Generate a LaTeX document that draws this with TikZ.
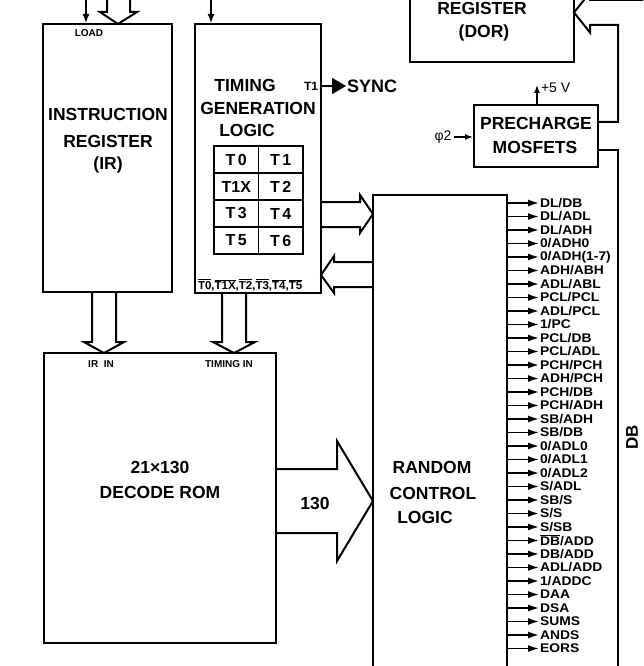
\documentclass[tikz,border=0pt]{standalone}
\usepackage{fontspec}
\setmainfont{Liberation Sans}
\newfontfamily\sigfont[FakeStretch=1.1]{Liberation Sans}
\usetikzlibrary{arrows.meta}
\newcommand{\olx}[1]{$\overline{\hbox{#1}}$}
\newcommand{\cgap}{\hspace{2.5pt}}
\begin{document}
\begin{tikzpicture}[x=1pt,y=-1pt,line width=2pt,line join=miter,
  box/.style={draw,inner sep=0pt},
  big/.style={font=\fontsize{17.5}{19}\selectfont\bfseries,inner sep=0pt},
  cellt/.style={font=\fontsize{16}{17}\selectfont\bfseries,inner sep=0pt},
  sm/.style={font=\fontsize{10}{11}\selectfont\bfseries,inner sep=0pt},
  sigf/.style={font=\sigfont\fontsize{12.6}{13}\selectfont\bfseries,anchor=west,inner sep=0pt},
  sigarrow/.style={-{Latex[length=11pt,width=7pt]},line width=1.6pt},
  thin/.style={-{Latex[length=9pt,width=7pt]},line width=1.6pt},
  cell/.style={draw,inner sep=0pt,minimum width=44.5pt,minimum height=27pt,line width=1.7pt}]
\useasboundingbox (0,0) rectangle (643,666);
\clip (0,0) rectangle (643,666);

% boxes
\node[box,minimum width=129pt,minimum height=268pt] (ir) at (107.5,158) {};
\node[box,minimum width=126pt,minimum height=269pt] (tim) at (258,158.5) {};
\node[box,minimum width=164pt,minimum height=76pt] (dor) at (492,24) {};
\node[box,minimum width=124pt,minimum height=62pt] (pre) at (536,136) {};
\node[box,minimum width=134pt,minimum height=485pt] (rcl) at (440,437.5) {};
\node[box,minimum width=232pt,minimum height=290pt] (rom) at (160,498) {};

% IR
\node[sm] (load) at (89,33) {LOAD};
\node[big] (irt1) at (108,114) {INSTRUCTION};
\node[big] (irt2) at (108,141) {REGISTER};
\node[big] (irt3) at (108,165) {(IR)};
\coordinate (loadtop) at (86,-2);
\draw[thin] (loadtop) -- (loadtop |- ir.north);
\draw (107,-2) -- (107,12) -- (100,12) -- (118,24) -- (137,12) -- (130,12) -- (130,-2);

% timing
\node[big] (tt1) at (245,85) {TIMING};
\node[big] (tt2) at (258,108) {GENERATION};
\node[big] (tt3) at (247,130) {LOGIC};
\coordinate (timtop) at (211,-2);
\draw[thin] (timtop) -- (timtop |- tim.north);
\node[cell] (c00) at (236.25,159.5) {}; \node[cellt] at (c00) {T\cgap 0};
\node[cell] (c01) at (280.75,159.5) {}; \node[cellt] at (c01) {T\cgap 1};
\node[cell] (c10) at (236.25,186.5) {}; \node[cellt] at (c10) {T1X};
\node[cell] (c11) at (280.75,186.5) {}; \node[cellt] at (c11) {T\cgap 2};
\node[cell] (c20) at (236.25,213.5) {}; \node[cellt] at (c20) {T\cgap 3};
\node[cell] (c21) at (280.75,213.5) {}; \node[cellt] at (c21) {T\cgap 4};
\node[cell] (c30) at (236.25,240.5) {}; \node[cellt] at (c30) {T\cgap 5};
\node[cell] (c31) at (280.75,240.5) {}; \node[cellt] at (c31) {T\cgap 6};
\node[font=\fontsize{11.5}{12}\selectfont\bfseries,inner sep=0pt,anchor=west] (tbar) at (197,285)
  {\olx{T0},\olx{T1X},\olx{T2},\olx{T3},\olx{T4},\olx{T5}};
\node[font=\fontsize{12}{13}\selectfont\bfseries,inner sep=0pt] (t1o) at (311,86) {T1};
\node[font=\fontsize{18}{19}\selectfont\bfseries,inner sep=0pt,anchor=west] (sync) at (346,86) {SYNC};
\draw[-{Triangle[length=14pt,width=16pt]},line width=1.6pt] (tim.east |- t1o) -- (sync.west);

% DOR
\node[big] (dort1) at (482,8) {REGISTER};
\node[big] (dort2) at (484,33) {(DOR)};

% precharge
\node[big] (pret1) at (536,123) {PRECHARGE};
\node[big] (pret2) at (535,147) {MOSFETS};
\node[font=\fontsize{14}{15}\selectfont,inner sep=0pt] (phi) at (443,137) {φ2};
\draw[-{Latex[length=8pt,width=6pt]},line width=1.4pt] (phi.east) ++(2,0) -- (pre.west |- phi.east);
\coordinate (vtop) at (537,85);
\draw[-{Latex[length=8pt,width=6pt]},line width=1.4pt] (pre.north -| vtop) -- (vtop);
\node[font=\fontsize{14}{15}\selectfont,inner sep=0pt,anchor=west] (v5) at (540,88) {+5 V};

% DB bus and DOR input
\coordinate (pu) at (598,122);
\coordinate (pl) at (598,150);
\coordinate (dbbot) at (618,680);
\draw (pu) -- (618,122) -- (618,25) -- (590,25) -- (590,32.5) -- (574,12.5) -- (590,-7.5) -- (590,0) -- (650,0);
\draw (pl) -| (dbbot);
\node[font=\fontsize{17}{18}\selectfont\bfseries,inner sep=0pt,rotate=90] (db) at (632,437) {DB};

% RCL
\node[big] (r1) at (432,467) {RANDOM};
\node[big] (r2) at (433,493) {CONTROL};
\node[big] (r3) at (425,517) {LOGIC};

% ROM
\node[sm] (irin) at (101,364) {IR\ \ IN};
\node[sm] (timin) at (229,364) {TIMING IN};
\node[big] (rom1) at (160,467) {21×130};
\node[big] (rom2) at (160,492) {DECODE ROM};

% hollow arrows
\draw (321,202) -- (360,202) -- (360,195) -- (373,214) -- (360,233) -- (360,227) -- (321,227);
\draw (373,262) -- (334,262) -- (334,256) -- (321,275) -- (334,293) -- (334,287) -- (373,287);
\draw (92,292) -- (92,342) -- (84,342) -- (104,353) -- (124,342) -- (116,342) -- (116,292);
\draw (222,293) -- (222,342) -- (213,342) -- (234,353) -- (255,342) -- (246,342) -- (246,293);
\draw (276,469) -- (337,469) -- (337,441) -- (373,501) -- (337,561) -- (337,533) -- (276,533);
\node[big] (n130) at (315,503) {130};

% control signals
\foreach \lab [count=\i from 0] in {DL/DB,DL/ADL,DL/ADH,0/ADH0,0/ADH(1-7),ADH/ABH,ADL/ABL,PCL/PCL,ADL/PCL,1/PC,PCL/DB,PCL/ADL,PCH/PCH,ADH/PCH,PCH/DB,PCH/ADH,SB/ADH,SB/DB,0/ADL0,0/ADL1,0/ADL2,S/ADL,SB/S,S/S,S/SB,{\olx{DB}/ADD},DB/ADD,ADL/ADD,1/ADDC,DAA,DSA,SUMS,ANDS,EORS}
{
  \node[sigf] (s\i) at (539,203+13.5*\i) {\lab};
  \draw[sigarrow] (rcl.east |- s\i.west) -- (s\i.west);
}
\end{tikzpicture}
\end{document}
